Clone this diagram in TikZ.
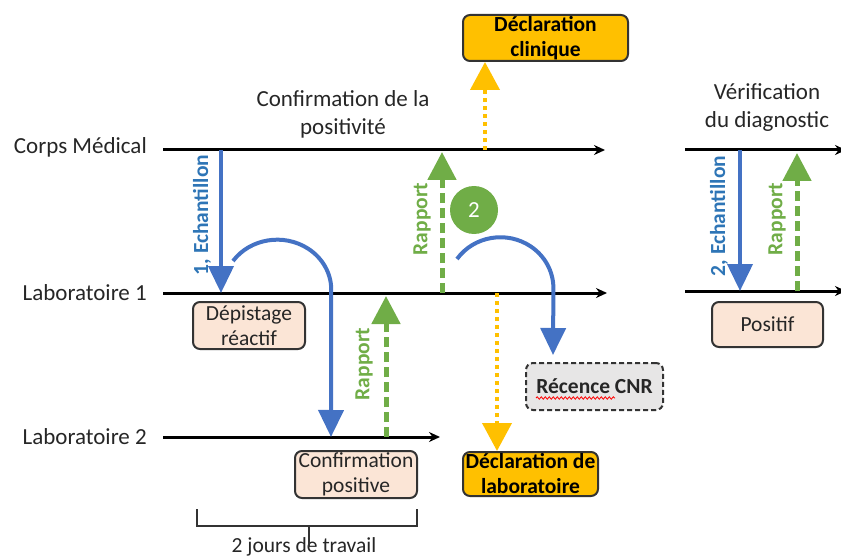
\documentclass[tikz,border=0pt]{standalone}
\usepackage{fontspec}
\setmainfont{Carlito}
\usetikzlibrary{arrows.meta,decorations.pathmorphing}

\definecolor{cblue}{HTML}{4472C4}
\definecolor{clabelblue}{HTML}{2E75B6}
\definecolor{cgreen}{HTML}{70AD47}
\definecolor{cyellow}{HTML}{FFC000}
\definecolor{cpeach}{HTML}{FBE5D6}
\definecolor{cgrey}{HTML}{E7E6E6}

\begin{document}
\begin{tikzpicture}[x=1pt, y=-1pt,
    timeline/.style={line width=3pt, draw=black, -{Stealth[length=11pt,width=10pt]}},
    sample/.style={line width=4pt, draw=cblue, -{Triangle[length=27pt,width=25pt]}},
    report/.style={line width=5pt, draw=cgreen, dash pattern=on 10pt off 5pt, -{Triangle[length=28pt,width=28pt]}},
    notif/.style={line width=4pt, draw=cyellow, dash pattern=on 4pt off 4pt, -{Triangle[length=28pt,width=29pt]}},
    lane/.style={font=\fontsize{23}{27}\selectfont, text=black!85, inner sep=0pt},
    note/.style={font=\fontsize{23}{28}\selectfont, text=black!85, align=center, inner sep=0pt},
    vlabel/.style={rotate=90, font=\fontsize{21.5}{25}\selectfont\bfseries, inner sep=0pt},
    result/.style={draw=black!80, line width=2pt, rounded corners=7pt, fill=cpeach, align=center,
      inner sep=0pt, font=\fontsize{21.5}{25}\selectfont, text=black!85},
    decl/.style={result, fill=cyellow, font=\fontsize{21.5}{25}\selectfont\bfseries, text=black},
  ]

    \useasboundingbox (0,0) rectangle (841,559);

    % lanes
    \node[lane, anchor=base east] (corps) at (147,154) {Corps Médical};
    \node[lane, anchor=base east] (labo1) at (147,300) {Laboratoire 1};
    \node[lane, anchor=base east] (labo2) at (147,444) {Laboratoire 2};

    % timelines
    \coordinate (corps-w) at (163,150);
    \coordinate (corps-e) at (605,150);
    \coordinate (labo1-w) at (163,293);
    \coordinate (labo1-e) at (607,293);
    \coordinate (labo2-w) at (163,437);
    \coordinate (labo2-e) at (440,437);
    \coordinate (verif1-w) at (685,150);
    \coordinate (verif1-e) at (846,150);
    \coordinate (verif2-w) at (685,291);
    \coordinate (verif2-e) at (846,291);
    \draw[timeline] (corps-w) -- (corps-e);
    \draw[timeline] (labo1-w) -- (labo1-e);
    \draw[timeline] (labo2-w) -- (labo2-e);
    \draw[timeline] (verif1-w) -- (verif1-e);
    \draw[timeline] (verif2-w) -- (verif2-e);

    % notes above
    \node[note] (confnote) at (343,114) {Confirmation de la\\positivité};
    \node[note] (verifnote) at (767,108) {Vérification\\du diagnostic};

    % boxes
    \node[decl, minimum width=165pt, minimum height=46pt] (declclin) at (545.5,38) {Déclaration\\clinique};
    \node[decl, minimum width=135pt, minimum height=44pt] (decllab) at (530.5,474) {Déclaration de\\laboratoire};
    \node[result, minimum width=112pt, minimum height=47pt] (depistage) at (249,325.5) {Dépistage\\réactif};
    \node[result, minimum width=122pt, minimum height=47pt] (confpos) at (356,474.5) {Confirmation\\positive};
    \node[result, minimum width=111pt, minimum height=45pt] (positif) at (767.5,324.5) {Positif};
    \node[result, fill=cgrey, dash pattern=on 5pt off 3pt, minimum width=137pt, minimum height=47pt,
      font=\fontsize{21.5}{25}\selectfont\bfseries] (recence) at (594.5,386.5) {Récence CNR};
    \draw[red, line width=0.8pt, decorate, decoration={snake, amplitude=1.2pt, segment length=4pt}]
      (536,398) -- (615,398);

    % first sample
    \coordinate (ech1-top) at (221,150);
    \coordinate (ech1-bot) at (221,293);
    \draw[sample] (ech1-top) -- (ech1-bot);
    \node[vlabel, text=clabelblue] (ech1-lbl) at (202,215) {1, Echantillon};

    % to laboratoire 2
    \coordinate (loop1) at (233,261);
    \coordinate (conf-in) at (331,437);
    \draw[sample] (loop1) arc[start angle=215, end angle=360, x radius=54, y radius=50] -- (conf-in);

    % reports
    \coordinate (rap2-bot) at (386,437);
    \coordinate (rap2-top) at (386,296);
    \draw[report] (rap2-bot) -- (rap2-top);
    \node[vlabel, text=cgreen] (rap2-lbl) at (364,364) {Rapport};

    \coordinate (rap1-bot) at (442,293);
    \coordinate (rap1-top) at (442,152);
    \draw[report] (rap1-bot) -- (rap1-top);
    \node[vlabel, text=cgreen] (rap1-lbl) at (422,219) {Rapport};

    % step 2
    \node[circle, fill=cgreen, minimum size=48pt, inner sep=0pt, text=white,
      font=\fontsize{23}{27}\selectfont] (etape2) at (474,210) {2};
    \coordinate (loop2) at (457,259);
    \coordinate (recence-in) at (553,355);
    \draw[sample] (loop2) arc[start angle=215, end angle=360, x radius=53, y radius=51] -- (recence-in);

    % declarations
    \coordinate (decl1-src) at (485,150);
    \draw[notif] (decl1-src) -- (decl1-src |- declclin.south);
    \coordinate (decl2-src) at (497,293);
    \draw[notif] (decl2-src) -- (decl2-src |- decllab.north);

    % verification
    \coordinate (ech2-top) at (740,150);
    \coordinate (ech2-bot) at (740,291);
    \draw[sample] (ech2-top) -- (ech2-bot);
    \node[vlabel, text=clabelblue] (ech2-lbl) at (719,216) {2, Echantillon};

    \coordinate (rap3-bot) at (797,291);
    \coordinate (rap3-top) at (797,153);
    \draw[report] (rap3-bot) -- (rap3-top);
    \node[vlabel, text=cgreen] (rap3-lbl) at (777,219) {Rapport};

    % span
    \coordinate (span-w) at (197,509);
    \coordinate (span-e) at (417,509);
    \coordinate (span-mid) at (309,526);
    \draw[line width=2pt, draw=black!80] (span-w) -- ++(0,17) -| (span-e);
    \node[lane, font=\fontsize{21.5}{25}\selectfont, anchor=base] (jours) at (304,552.5) {2 jours de travail};
    \draw[line width=2pt, draw=black!80] (span-mid) -- ++(0,21);

  \end{tikzpicture}
\end{document}
